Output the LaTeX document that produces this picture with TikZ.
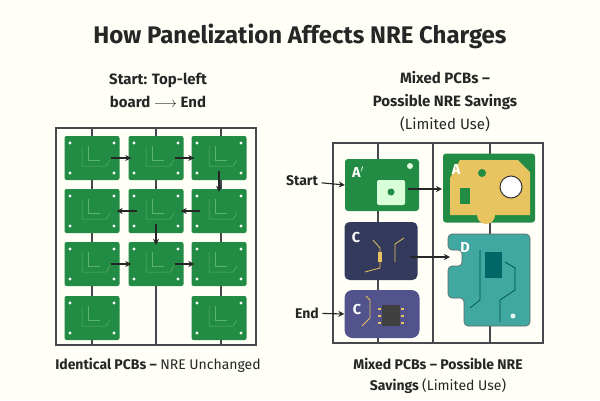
\documentclass[tikz,border=0pt]{standalone}
\usepackage{fontspec}
\setmainfont{Fira Sans}
\usetikzlibrary{arrows.meta}
\definecolor{pcbgreen}{RGB}{34,139,68}
\definecolor{pcbline}{RGB}{90,180,110}
\definecolor{frame}{RGB}{70,72,76}
\definecolor{navy}{RGB}{52,58,92}
\definecolor{purp}{RGB}{82,82,140}
\definecolor{tealb}{RGB}{64,168,160}
\definecolor{goldy}{RGB}{232,196,96}
\tikzset{
  board/.style={fill=pcbgreen,rounded corners=2pt,minimum width=55pt,minimum height=44pt,inner sep=0pt},
  flow/.style={arrows=-{Stealth[length=6pt,width=6pt]},line width=1.6pt,black!85},
  hop/.style={flow,shorten <=-9pt,shorten >=-3pt},
  rail/.style={frame,line width=1.3pt},
  ttl/.style={font=\bfseries,text=black!85,align=center}
}
\begin{document}
\begin{tikzpicture}[x=1pt,y=-1pt]
	\useasboundingbox[fill=white!97!yellow] (0,0) rectangle (600,400);
	% Titles
	\node[ttl,font=\bfseries\fontsize{24}{28}\selectfont] (title) at (300,36) {How Panelization Affects NRE Charges};
	\node[ttl,font=\bfseries\fontsize{15}{23}\selectfont] (lhead) at (158,90) {Start: Top-left\\board $\longrightarrow$ End};
	\node[ttl,font=\bfseries\fontsize{15}{23}\selectfont] (rhead) at (445,101) {Mixed PCBs –\\Possible NRE Savings\\{\normalfont\mdseries (Limited Use)}};
	% Left panel frame
	\draw[rail] (56,128) rectangle (256,345);
	\foreach \x in {92,156,221} \draw[rail] (\x,128) -- (\x,345);
	% Identical boards
	\foreach \r/\y in {1/158,2/211,3/264,4/318}{
	  \foreach \c/\x in {1/92,2/156,3/219}{
	    \node[board] (b\r\c) at (\x,\y) {};
	    \draw[pcbline,line width=0.5pt] (\x-10,\y-12) -- (\x-10,\y+8) -- (\x+14,\y+8) -- (\x+18,\y+2);
	    \draw[pcbline,line width=0.5pt] (\x-4,\y-12) -- (\x-4,\y+2) -- (\x+8,\y+2);
	    \foreach \dx in {-22,22} \foreach \dy in {-15,15}
	      \fill[white] (\x+\dx,\y+\dy) circle (1.6);
	  }
	}
	\fill[white!97!yellow] (124,294) rectangle (188,343);
	\draw[rail] (156,294) -- (156,343);
	% Order arrows
	\draw[hop] (b11) -- (b12);
	\draw[hop] (b12) -- (b13);
	\draw[hop] (b13) -- (b23);
	\draw[hop] (b23) -- (b22);
	\draw[hop] (b22) -- (b21);
	\draw[hop] (b22) -- (b32);
	\draw[hop] (b31) -- (b32);
	\draw[hop] (b32) -- (b33);
	% Right panel frame
	\draw[rail] (333,143) rectangle (543,343);
	\foreach \x in {378,433,490} \draw[rail] (\x,143) -- (\x,343);
	% Mixed boards
	\node[fill=pcbgreen,rounded corners=3pt,minimum width=74pt,minimum height=52pt] (ap) at (382,185) {};
	\node[text=white,font=\bfseries\Large] at (358,172) {A$'$};
	\fill[white!85!green,rounded corners=2pt] (377,180) rectangle (405,205);
	\fill[pcbgreen] (391,192) circle (3.5);
	\fill[white!90!green] (410,166) circle (3);
	\node[fill=pcbgreen,rounded corners=3pt,minimum width=92pt,minimum height=69pt] (a) at (489,188) {};
	\fill[goldy] (450,178) -- (460,160) -- (518,160) -- (530,172) -- (530,215) -- (495,215) arc (0:180:9) -- (450,215) -- cycle;
	\draw[black!80,fill=white,line width=1pt] (511,187) circle (11);
	\fill[pcbgreen] (482,173) circle (4);
	\fill[pcbgreen] (460,188) rectangle (470,204);
	\node[text=white,font=\bfseries\Large] at (456,170) {A};
	\node[fill=navy,rounded corners=5pt,minimum width=73pt,minimum height=58pt] (c) at (381,251) {};
	\node[text=white,font=\bfseries\Large] at (356,238) {C};
	\draw[goldy,line width=0.8pt] (373,240) -- (380,248) -- (380,268) -- (365,272);
	\draw[goldy,line width=0.8pt] (395,262) -- (395,244) -- (404,238);
	\fill[goldy] (378,252) rectangle (382,262);
	\node[fill=purp,minimum width=75pt,minimum height=48pt,rounded corners=8pt] (cp) at (382,314) {};
	\node[text=white,font=\bfseries\Large] at (357,310) {C};
	\fill[black!75] (382,305) rectangle (400,326);
	\foreach \dy in {308,315,322} {\fill[goldy] (378,\dy) rectangle (381,\dy+2); \fill[goldy] (401,\dy) rectangle (404,\dy+2);}
	\draw[goldy,line width=0.8pt] (366,296) -- (370,300) -- (370,318) -- (362,326);
	\fill[tealb,draw=black!60,line width=0.6pt,rounded corners=4pt] (448,234) -- (530,234) -- (530,326) -- (464,326) -- (464,298) -- (448,298) -- (448,266) -- (462,266) -- (462,250) -- (448,250) -- cycle;
	\coordinate (d) at (450,257);
	\node[text=white,font=\bfseries\Large] at (465,248) {D};
	\fill[teal!80!black] (485,252) rectangle (502,278);
	\draw[teal!60!black,line width=0.7pt] (480,250) -- (480,300) -- (470,308);
	\draw[teal!60!black,line width=0.7pt] (505,262) -- (515,268) -- (515,290) -- (500,300) -- (500,322);
	\fill[white!90!teal] (513,316) circle (2.5);
	% Mixed arrows
	\coordinate (ain) at (442,189);
	\coordinate (apout) at (408,189);
	\coordinate (cout) at (410,257);
	\draw[flow] (apout) -- (ain);
	\draw[flow] (cout) -- (d);
	\node[font=\bfseries\fontsize{14}{16}\selectfont,text=black!85] (start) at (302,181) {Start};
	\node[font=\bfseries\fontsize{14}{16}\selectfont,text=black!85] (end) at (307,313) {End};
	\draw[flow,line width=1.1pt] (start) -- (ap.west);
	\draw[flow,line width=1.1pt] (end) -- (cp.west);
	% Captions
	\node[ttl,font=\bfseries\fontsize{14}{16}\selectfont] (lcap) at (158,365) {Identical PCBs – {\mdseries NRE Unchanged}};
	\node[ttl,font=\bfseries\fontsize{14}{21}\selectfont] (rcap) at (438,376) {Mixed PCBs – Possible NRE\\Savings {\mdseries(Limited Use)}};
\end{tikzpicture}
\end{document}
